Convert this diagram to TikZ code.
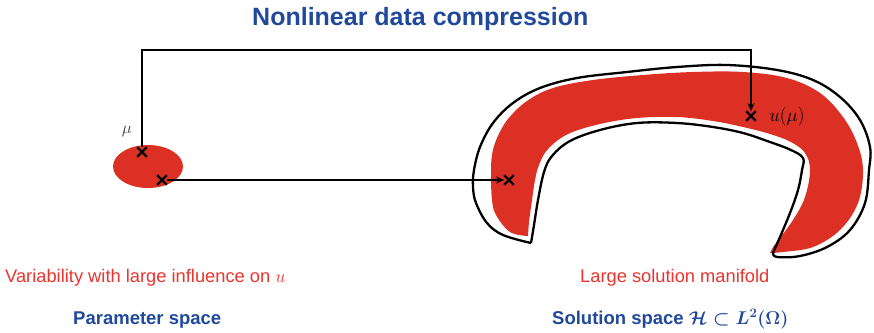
\RequirePackage{fix-cm}
\documentclass[tikz,border=0pt]{standalone}
\usepackage{fontspec}
\setmainfont{Liberation Sans}
\usetikzlibrary{arrows.meta,shapes.misc}
\definecolor{tblue}{RGB}{32,72,155}
\definecolor{tred}{RGB}{235,52,45}
\definecolor{mred}{RGB}{220,48,36}
\begin{document}
\begin{tikzpicture}[x=1pt,y=-1pt,
  xmark/.style={draw,cross out,line width=2.2pt,minimum size=7.5pt,inner sep=0pt},
  arr/.style={line width=1.4pt,-{Stealth[length=8pt,width=7pt]}},
  outline/.style={line width=2.3pt,line join=round},
  lbl/.style={inner sep=0pt}]
\useasboundingbox (0,0) rectangle (874,332);
% title
\node[lbl,anchor=base west,text=tblue,font=\fontsize{25}{30}\selectfont\bfseries] (title) at (252,25) {Nonlinear data compression};
% parameter set
\fill[mred] (148,166.5) ellipse [x radius=35pt,y radius=21.5pt];
% manifold fill
\fill[mred] plot[smooth,tension=0.6] coordinates {(528,236) (510,232) (496,215) (492,200) (491,175) (492,155) (497,138) (508,119) (527,101) (553,88) (593,80) (643,75) (693,72) (743,72) (787,78) (820,93) (843,117) (857,143) (863,170) (858,203) (840,230) (813,247) (783,252) (770,253)}
  -- plot[smooth,tension=0.6] coordinates {(773,247) (793,220) (805,197) (810,170) (805,153) (791,142) (770,134) (743,127) (713,121) (677,117) (637,118) (600,124) (568,134) (548,149) (539,165) (535,180) (532,200) (529,222) (528,236)} -- cycle;
% manifold outline
\draw[outline] plot[smooth,tension=0.6] coordinates {(531,243) (503,235) (487,223) (476,203) (473,187) (474,170) (480,147) (493,123) (513,103) (540,88) (577,78) (627,72) (677,67) (727,65) (777,70) (813,80) (840,97) (860,120) (870,147) (869,170) (865,203) (850,230) (827,247) (800,256) (777,257) (773,253)}
  -- plot[smooth,tension=0.6] coordinates {(780,237) (790,213) (798,190) (802,170) (803,158) (791,150) (770,142) (743,133) (713,127) (677,123) (637,123) (600,130) (570,141) (552,156) (544,172) (538,200) (534,225) (531,243)};
% marks
\node[xmark] (c1) at (142,152) {};
\node[xmark] (c2) at (162,180) {};
\node[xmark] (c3) at (509,180) {};
\node[xmark] (c4) at (751,116) {};
\coordinate (top) at (751,50);
\draw[arr] (c2) -- (c3);
\draw[arr] (c1) |- (top) -- (c4);
% labels
\node[lbl,text=black!75,font=\fontsize{17}{19}\selectfont] (mu) at (127,131) {$\mu$};
\node[lbl,font=\fontsize{19}{22}\selectfont] (umu) at (787,117) {$u(\mu)$};
\node[lbl,anchor=base west,text=tred,font=\fontsize{18.3}{22}\selectfont] (var) at (5,282) {Variability with large influence on $u$};
\node[lbl,anchor=base west,text=tblue,font=\fontsize{18.5}{22}\selectfont\bfseries] (par) at (73,324) {Parameter space};
\node[lbl,anchor=base west,text=tred,font=\fontsize{18.3}{22}\selectfont] (large) at (580,282) {Large solution manifold};
\node[lbl,anchor=base west,text=tblue,font=\fontsize{18.5}{22}\selectfont\bfseries\boldmath] (sol) at (552,324) {Solution space $\mathcal{H}\subset L^{2}(\Omega)$};
\end{tikzpicture}
\end{document}
